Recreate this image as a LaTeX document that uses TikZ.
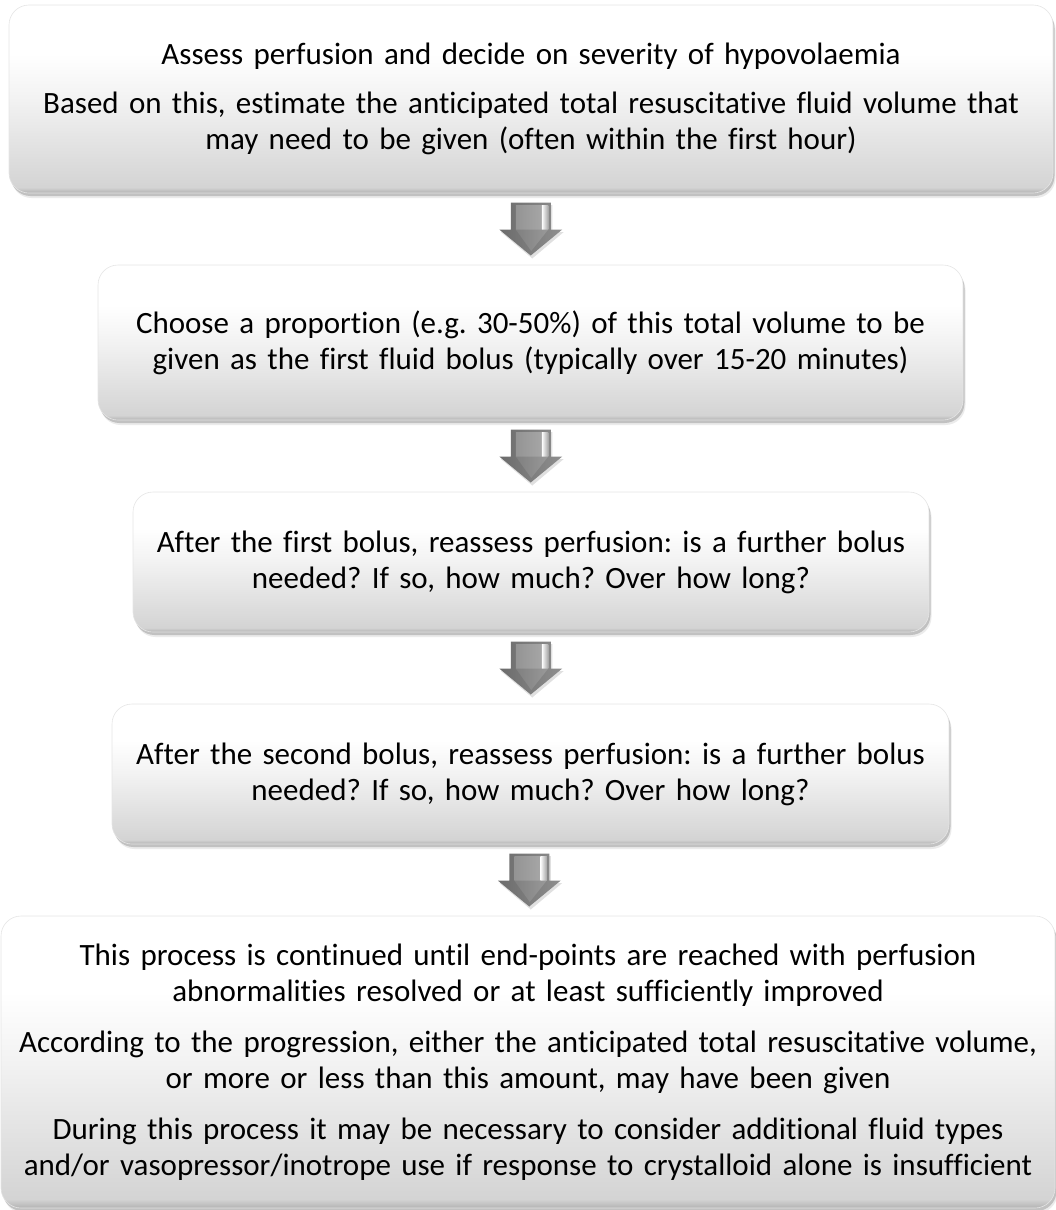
\documentclass[tikz,border=0pt]{standalone}
\usepackage{fontspec}
\setmainfont{Carlito}[Ligatures=NoCommon]
\usetikzlibrary{shadows,calc}
\pgfdeclareverticalshading{boxshade}{100bp}{color(0bp)=(black!30); color(25bp)=(black!30); color(26.5bp)=(black!17); color(50bp)=(black!5); color(62bp)=(white); color(100bp)=(white)}
\tikzset{
  box/.style={shading=boxshade, draw=black!10, line width=0.6pt, rounded corners=20pt,
    inner sep=0pt, align=center, font=\fontsize{31}{36}\selectfont\frenchspacing,
    general shadow={shadow xshift=2.5pt, shadow yshift=-5pt, fill=black, opacity=.08},
    general shadow={shadow xshift=1.5pt, shadow yshift=-3pt, fill=black, opacity=.18}},
  bigarrow/.pic={
    \fill[black, opacity=.12] (-18.5,-24) -- (21.5,-24) -- (21.5,3) -- (33,3) -- (1.5,29.5) -- (-30,3) -- (-18.5,3) -- cycle;
    \shade[left color=black!58, right color=black!44] (-20,-26.5) -- (20,-26.5) -- (20,0.5) -- (31.5,0.5) -- (0,26.5) -- (-31.5,0.5) -- (-20,0.5) -- cycle;
    \shade[left color=black!42, right color=black!35] (-15,-24) -- (11,-24) -- (11,0.5) -- (-15,0.5) -- cycle;
    \shade[left color=white, right color=black!35] (11,-24) -- (17.5,-24) -- (17.5,0.5) -- (11,0.5) -- cycle;
    \shade[left color=black!50, right color=black!40] (-15,0.5) -- (17.5,0.5) -- (0.5,22) -- cycle;
  }
}
\begin{document}
\begin{tikzpicture}[x=1pt,y=-1pt]
\useasboundingbox (0,0) rectangle (1056,1210);
\node[box, minimum width=1044pt, minimum height=188pt, text width=1044pt] (b1) at (531,99)
  {Assess perfusion and decide on severity of hypovolaemia\\[13pt]
   Based on this, estimate the anticipated total resuscitative fluid volume that\\
   may need to be given (often within the first hour)};
\node[box, minimum width=865pt, minimum height=155pt, text width=865pt] (b2) at (530.5,342.5)
  {Choose a proportion (e.g. 30-50\%) of this total volume to be\\
   given as the first fluid bolus (typically over 15-20 minutes)};
\node[box, minimum width=796pt, minimum height=140pt, text width=796pt] (b3) at (531,562)
  {After the first bolus, reassess perfusion: is a further bolus\\
   needed? If so, how much? Over how long?};
\node[box, minimum width=837pt, minimum height=140pt, text width=837pt] (b4) at (530.5,774)
  {After the second bolus, reassess perfusion: is a further bolus\\
   needed? If so, how much? Over how long?};
\node[box, minimum width=1054pt, minimum height=292pt, text width=1054pt] (b5) at (528,1062)
  {This process is continued until end-points are reached with perfusion\\
   abnormalities resolved or at least sufficiently improved\\[15pt]
   According to the progression, either the anticipated total resuscitative volume,\\
   or more or less than this amount, may have been given\\[15pt]
   During this process it may be necessary to consider additional fluid types\\
   and/or vasopressor/inotrope use if response to crystalloid alone is insufficient};
\coordinate (a1) at ($(b1.south)!.5!(b2.north)$);
\coordinate (a2) at ($(b2.south)!.5!(b3.north)$);
\coordinate (a3) at ($(b3.south)!.5!(b4.north)$);
\coordinate (a4) at ($(b4.south)!.5!(b5.north)$);
\pic at (a1) {bigarrow};
\pic at (a2) {bigarrow};
\pic at (a3) {bigarrow};
\pic at (a4) {bigarrow};
\end{tikzpicture}
\end{document}
